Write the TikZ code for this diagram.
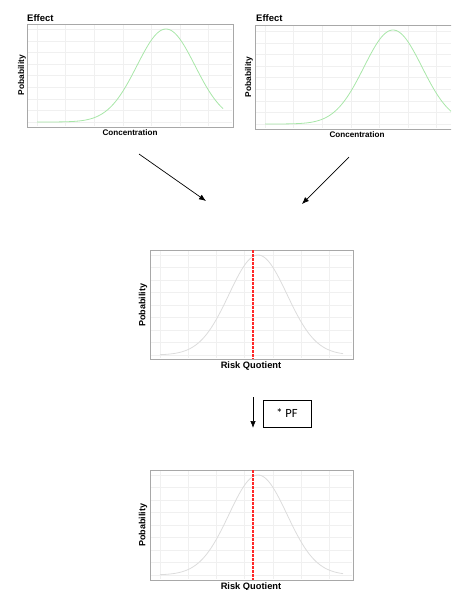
\documentclass[tikz,border=0pt]{standalone}
\usepackage{fontspec}
\setmainfont{Liberation Sans}
\newfontfamily\calib{Carlito}
\usetikzlibrary{arrows.meta}
\definecolor{curvegreen}{HTML}{A8E6A8}
\definecolor{curvegray}{HTML}{DCDCDC}
\definecolor{gridc}{HTML}{F0F0F0}
\definecolor{framec}{HTML}{A8A8A8}
\definecolor{rqred}{RGB}{255,40,40}
\tikzset{
  frame/.style={draw=framec, line width=0.7pt, anchor=north west, inner sep=0pt},
  gridline/.style={draw=gridc, line width=0.5pt},
  gcurve/.style={draw=curvegreen, line width=0.8pt},
  rcurve/.style={draw=curvegray, line width=0.8pt},
  rqline/.style={color=rqred, dash pattern=on 2.5pt off 1.5pt, line width=1.1pt},
  ttl/.style={font=\bfseries\fontsize{9.5}{10}\selectfont, anchor=base west, inner sep=0pt},
  ylab/.style={font=\bfseries\fontsize{8.4}{9}\selectfont, rotate=90, inner sep=0pt},
  xlab/.style={font=\bfseries\fontsize{8.1}{9}\selectfont, inner sep=0pt},
  rylab/.style={font=\bfseries\fontsize{9}{10}\selectfont, rotate=90, inner sep=0pt},
  rxlab/.style={font=\bfseries\fontsize{9.3}{10}\selectfont, inner sep=0pt},
  arr/.style={-{Latex[length=7pt,width=5.5pt]}, line width=0.7pt},
  pfbox/.style={draw, line width=0.6pt, minimum width=48pt, minimum height=27pt, inner sep=0pt, font=\calib\fontsize{12.5}{13}\selectfont}
}
\begin{document}
\begin{tikzpicture}[x=1pt,y=-1pt]
\useasboundingbox (0,0) rectangle (451,590);
\clip (0,0) rectangle (451,590);

% ---------- Plot 1 ----------
\foreach \k in {0,...,6} \draw[gridline] ({37+28.6*\k},25) -- ({37+28.6*\k},126);
\foreach \k in {0,...,8} \draw[gridline] (28,{122-11.6*\k}) -- (232,{122-11.6*\k});
\draw[gcurve, domain=37:223, samples=120] plot (\x, {122-93*exp(-0.5*((\x-166)/29)^2)});
\node[frame, minimum width=206pt, minimum height=103pt] (p1) at (27,24) {};
\node[ttl] (t1) at (27,21) {Effect};
\node[ylab] (y1) at (22,75) {Pobability};
\node[xlab] (x1) at (130,133) {Concentration};

% ---------- Plot 2 ----------
\foreach \k in {0,...,6} \draw[gridline] ({265+28.6*\k},26) -- ({265+28.6*\k},128);
\foreach \k in {0,...,8} \draw[gridline] (256,{124-11.6*\k}) -- (451,{124-11.6*\k});
\draw[gcurve, domain=265:451, samples=120] plot (\x, {124-94*exp(-0.5*((\x-393)/29)^2)});
\node[frame, minimum width=200pt, minimum height=104pt] (p2) at (255,25) {};
\node[ttl] (t2) at (256,21) {Effect};
\node[ylab] (y2) at (249,77) {Pobability};
\node[xlab] (x2) at (357,135) {Concentration};

% ---------- arrows to middle ----------
\coordinate (a1s) at (139,154);
\coordinate (a1e) at (206,201);
\coordinate (a2s) at (349,157);
\coordinate (a2e) at (302,204);
\draw[arr] (a1s) -- (a1e);
\draw[arr] (a2s) -- (a2e);

% ---------- Plot 3 ----------
\foreach \k in {0,...,6} \draw[gridline] ({160+28.2*\k},251) -- ({160+28.2*\k},358);
\foreach \k in {0,...,8} \draw[gridline] (151,{355-12.5*\k}) -- (352,{355-12.5*\k});
\draw[rcurve, domain=160:343, samples=120] plot (\x, {355-100*exp(-0.5*((\x-258)/29)^2)});
\node[frame, minimum width=203pt, minimum height=109pt] (p3) at (150,250) {};
\coordinate (r3t) at (253,250);
\coordinate (r3b) at (253,359);
\draw[rqline] (r3t) -- (r3b);
\node[rylab] (y3) at (143,305) {Pobability};
\node[rxlab] (x3) at (251,366) {Risk Quotient};

% ---------- PF arrow ----------
\coordinate (pfs) at (253,397);
\coordinate (pfe) at (253,428);
\draw[arr] (pfs) -- (pfe);
\node[pfbox] (pf) at (287,413.5) {* PF};

% ---------- Plot 4 ----------
\foreach \k in {0,...,6} \draw[gridline] ({160+28.2*\k},471) -- ({160+28.2*\k},579);
\foreach \k in {0,...,8} \draw[gridline] (151,{575-12.5*\k}) -- (352,{575-12.5*\k});
\draw[rcurve, domain=160:343, samples=120] plot (\x, {575-100*exp(-0.5*((\x-258)/29)^2)});
\node[frame, minimum width=203pt, minimum height=110pt] (p4) at (150,470) {};
\coordinate (r4t) at (253,470);
\coordinate (r4b) at (253,580);
\draw[rqline] (r4t) -- (r4b);
\node[rylab] (y4) at (143,525) {Pobability};
\node[rxlab] (x4) at (251,587) {Risk Quotient};
\end{tikzpicture}
\end{document}
